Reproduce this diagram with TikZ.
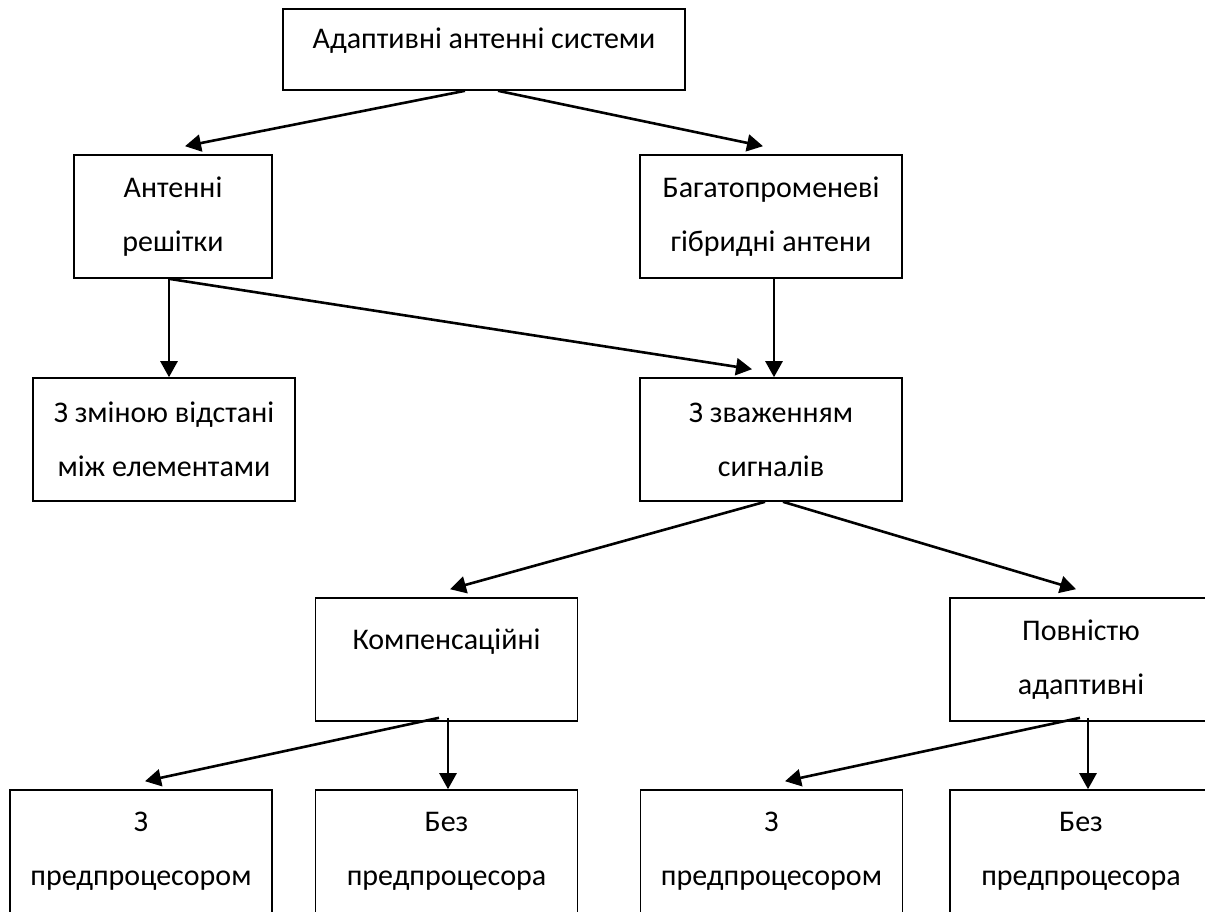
\documentclass[tikz,border=0pt]{standalone}
\usepackage{fontspec}
\setmainfont{Carlito}
\usetikzlibrary{arrows.meta}

\begin{document}
\begin{tikzpicture}[x=0.5pt,y=-0.5pt]

        \useasboundingbox (0,0) rectangle (1205,911);

        \begin{scope}[every node/.style={rectangle,draw,line width=0.8pt,inner sep=0pt,
            minimum width=131pt,minimum height=61.5pt,align=center,
            font=\fontsize{15}{27}\selectfont}]
          \node[minimum width=201pt,minimum height=40.5pt,text depth=11pt]
                     (1)  at (484,49.5)    {Адаптивні антенні системи};
          \node[minimum width=99pt]
                     (2)  at (173,216.5)   {Антенні\\решітки};
          \node (3)  at (771,216.5)   {Багатопроменеві\\гібридні антени};
          \node (4)  at (164,439.5)   {З зміною відстані\\між елементами};
          \node (5)  at (771,439.5)   {З зваженням\\сигналів};
          \node[text depth=20pt]
                     (6)  at (446.5,659.5) {Компенсаційні};
          \node (7)  at (1081,659.5)  {Повністю\\адаптивні};
          \node (8)  at (141,851.5)   {З\\предпроцесором};
          \node (9)  at (446.5,851.5) {Без\\предпроцесора};
          \node (10) at (771.5,851.5) {З\\предпроцесором};
          \node (11) at (1081,851.5)  {Без\\предпроцесора};
        \end{scope}

        \begin{scope}[every edge/.style={draw,line width=1.3pt,
            -{Triangle[length=8pt,width=8.5pt]}}]
          \path ([xshift=-9.5pt]1.south) edge ([xshift=6pt,yshift=4pt]2.north);
          \path ([xshift=7pt]1.south)    edge ([xshift=-4pt,yshift=4pt]3.north);
          \path ([xshift=-2pt]2.south)   edge ([xshift=-2pt]2.south |- 4.north);
          \path ([xshift=-2pt]2.south)   edge ([xshift=-9.5pt,yshift=4pt]5.north);
          \path ([xshift=1.5pt]3.south)  edge ([xshift=1.5pt]5.north);
          \path ([xshift=-3pt]5.south)   edge ([xshift=1.75pt,yshift=4pt]6.north);
          \path ([xshift=6pt]5.south)    edge ([xshift=-2.5pt,yshift=4pt]7.north);
          \path ([xshift=-3.75pt,yshift=2pt]6.south) edge ([xshift=2pt,yshift=4pt]8.north);
          \path ([xshift=0.75pt,yshift=2pt]6.south)  edge ([xshift=0.75pt]9.north);
          \path ([xshift=-0.5pt,yshift=2pt]7.south)  edge ([xshift=6.75pt,yshift=4pt]10.north);
          \path ([xshift=3.5pt,yshift=2pt]7.south)   edge ([xshift=3.5pt]11.north);
        \end{scope}

      \end{tikzpicture}
\end{document}
